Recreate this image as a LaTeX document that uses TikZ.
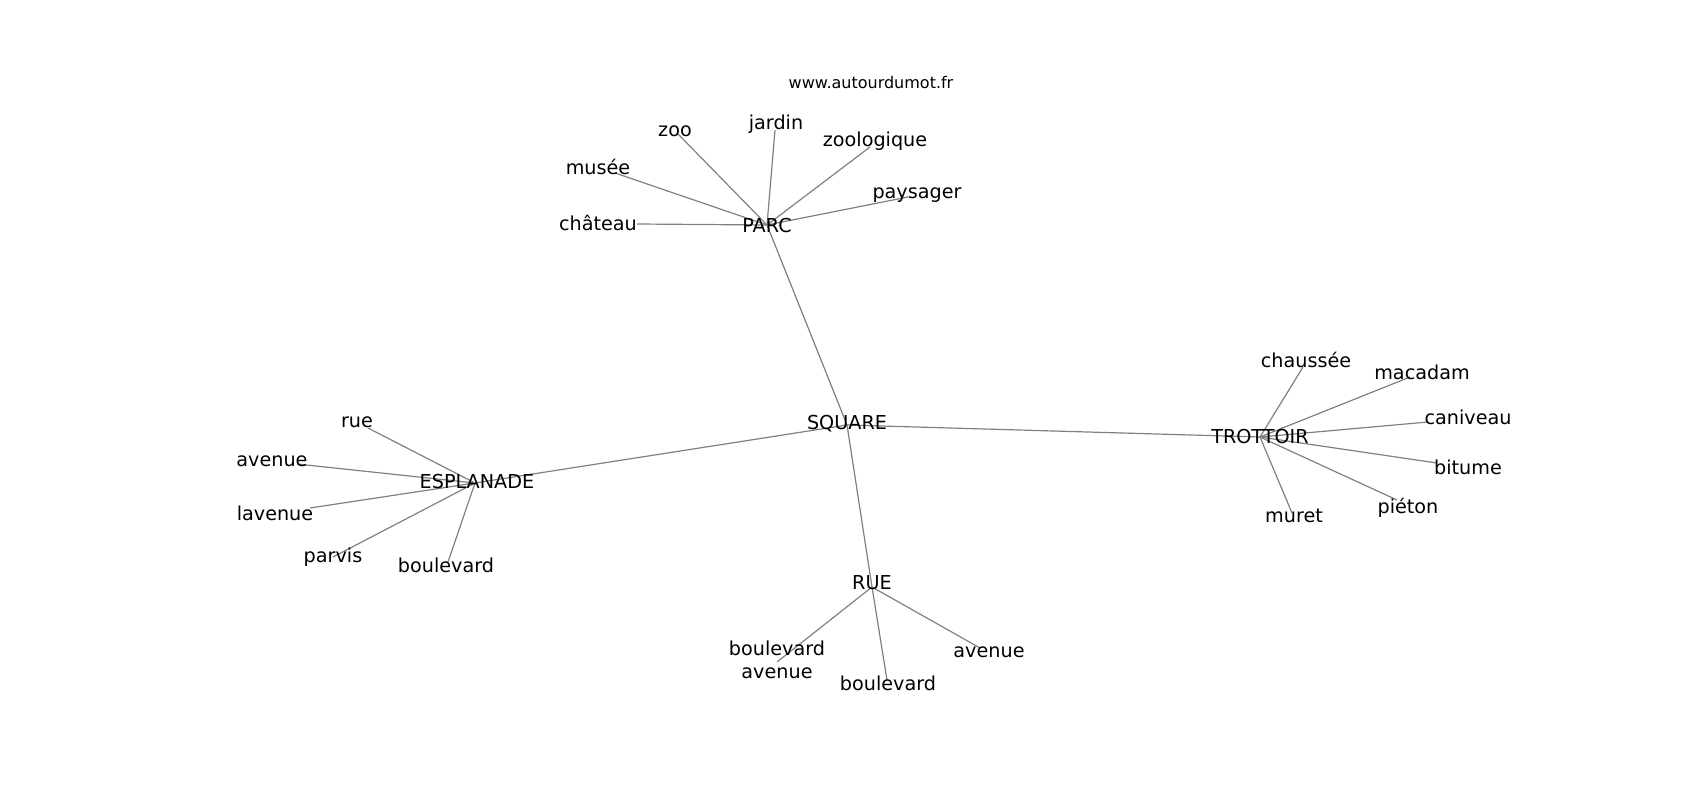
\documentclass[tikz,border=0pt]{standalone}
\usepackage{fontspec}
\setmainfont{DejaVu Sans}
\begin{document}
\begin{tikzpicture}[x=1pt,y=-1pt,
  edge/.style={draw=black!50, line width=1.2pt},
  lbl/.style={inner sep=0pt, font=\fontsize{19.2}{22.5}\selectfont, text=black, align=center},
  site/.style={inner sep=0pt, font=\fontsize{16}{19}\selectfont, text=black}]
\useasboundingbox (0,0) rectangle (1700,800);
% edge end points
\coordinate (ePARC) at (767,225);
\coordinate (ezoo) at (678,134);
\coordinate (ejardin) at (775,130);
\coordinate (ezoologique) at (870,147);
\coordinate (emusee) at (615,173);
\coordinate (epaysager) at (908,197);
\coordinate (echateau) at (637,224);
\coordinate (eSQUARE) at (847,425);
\coordinate (eESPLANADE) at (475,483);
\coordinate (erue) at (368,428);
\coordinate (eavenueE) at (297,464);
\coordinate (elavenue) at (310,508);
\coordinate (eparvis) at (333,557);
\coordinate (eboulevardE) at (448,562);
\coordinate (eTROTTOIR) at (1260,437);
\coordinate (echaussee) at (1303,367);
\coordinate (emacadam) at (1410,377);
\coordinate (ecaniveau) at (1428,422);
\coordinate (ebitume) at (1437,463);
\coordinate (epieton) at (1397,500);
\coordinate (emuret) at (1292,513);
\coordinate (eRUE) at (872,587);
\coordinate (ebouav) at (777,662);
\coordinate (eboulevardR) at (887,680);
\coordinate (eavenueR) at (980,648);
% edges
\foreach \n in {zoo,jardin,zoologique,musee,paysager,chateau,SQUARE}
  \draw[edge] (ePARC) -- (e\n);
\foreach \n in {ESPLANADE,TROTTOIR,RUE}
  \draw[edge] (eSQUARE) -- (e\n);
\foreach \n in {rue,avenueE,lavenue,parvis,boulevardE}
  \draw[edge] (eESPLANADE) -- (e\n);
\foreach \n in {chaussee,macadam,caniveau,bitume,pieton,muret}
  \draw[edge] (eTROTTOIR) -- (e\n);
\foreach \n in {bouav,boulevardR,avenueR}
  \draw[edge] (eRUE) -- (e\n);
% labels
\node[site] (site) at (871,83) {www.autourdumot.fr};
\node[lbl] (PARC) at (767,226) {PARC};
\node[lbl] (zoo) at (675,131) {zoo};
\node[lbl] (jardin) at (776,124) {jardin};
\node[lbl] (zoologique) at (875,141) {zoologique};
\node[lbl] (musee) at (598,167) {musée};
\node[lbl] (paysager) at (917,195) {paysager};
\node[lbl] (chateau) at (598,223) {château};
\node[lbl] (SQUARE) at (847,424) {SQUARE};
\node[lbl] (ESPLANADE) at (477,482) {ESPLANADE};
\node[lbl] (rue) at (357,422) {rue};
\node[lbl] (avenueE) at (272,461) {avenue};
\node[lbl] (lavenue) at (275,513) {lavenue};
\node[lbl] (parvis) at (333,557) {parvis};
\node[lbl] (boulevardE) at (446,565) {boulevard};
\node[lbl] (TROTTOIR) at (1260,437) {TROTTOIR};
\node[lbl] (chaussee) at (1306,360) {chaussée};
\node[lbl] (macadam) at (1422,372) {macadam};
\node[lbl] (caniveau) at (1468,417) {caniveau};
\node[lbl] (bitume) at (1468,467) {bitume};
\node[lbl] (pieton) at (1408,508) {piéton};
\node[lbl] (muret) at (1294,516) {muret};
\node[lbl] (RUE) at (872,583) {RUE};
\node[lbl] (bouav) at (777,660) {boulevard\\avenue};
\node[lbl] (boulevardR) at (888,683) {boulevard};
\node[lbl] (avenueR) at (989,652) {avenue};
\end{tikzpicture}
\end{document}
